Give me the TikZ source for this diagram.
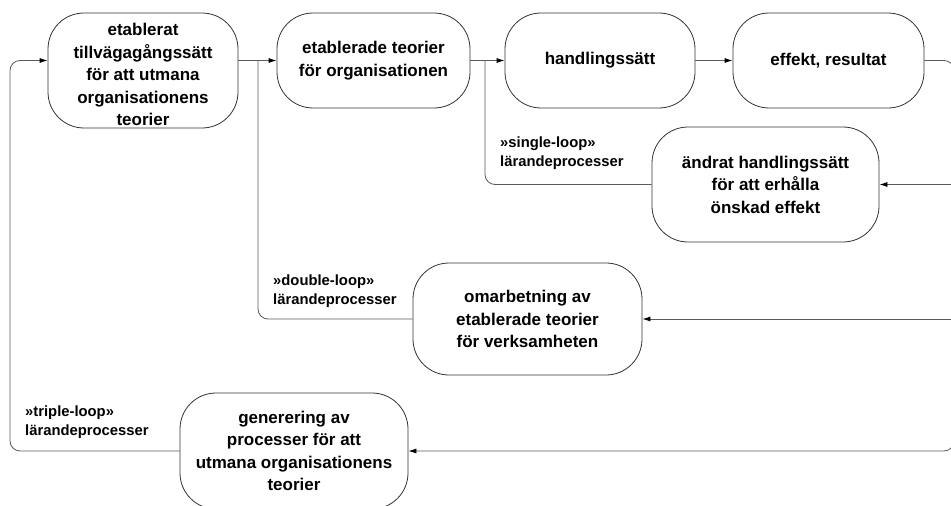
\documentclass[tikz,border=0pt]{standalone}
\usepackage{fontspec}
\setmainfont{Liberation Sans}
\usetikzlibrary{arrows.meta}
\definecolor{boxgray}{HTML}{333333}
\definecolor{linegray}{HTML}{5A5A5A}
\begin{document}
\begin{tikzpicture}[x=1pt,y=-1pt,
  box/.style={draw=boxgray, line width=0.8pt, rounded corners=36pt, align=center,
    font=\bfseries\fontsize{17}{22.5}\selectfont, inner sep=0pt},
  conn/.style={draw=linegray, line width=0.8pt, rounded corners=10pt},
  arr/.style={conn, -{Latex[length=8pt,width=5pt,color=black]}},
  lbl/.style={anchor=north west, align=left, inner sep=0pt,
    font=\bfseries\fontsize{14.8}{19}\selectfont}]
\useasboundingbox (0,0) rectangle (951,506);
\clip (0,0) rectangle (951,506);

% boxes
\node[box, minimum width=190pt, minimum height=115pt] (b1) at (143,70.5)
  {\parbox{180pt}{\vspace*{8pt}\centering etablerat\\tillvägagångssätt\\för att utmana\\organisationens\\teorier}};
\node[box, minimum width=193pt, minimum height=95pt] (b2) at (373.5,60.5)
  {etablerade teorier\\för organisationen};
\node[box, minimum width=190pt, minimum height=95pt] (b3) at (600,60.5)
  {handlingssätt};
\node[box, minimum width=191pt, minimum height=95pt] (b4) at (828.5,60.5)
  {effekt, resultat};
\node[box, minimum width=227pt, minimum height=115pt] (b5) at (765.5,184.5)
  {ändrat handlingssätt\\för att erhålla\\önskad effekt};
\node[box, minimum width=229pt, minimum height=112pt] (b6) at (527.5,319)
  {omarbetning av\\etablerade teorier\\för verksamheten};
\node[box, minimum width=228pt, minimum height=116pt] (b7) at (294,451)
  {generering av\\processer för att\\utmana organisationens\\teorier};

% labels
\node[lbl] (l1) at (500,137) {»single-loop»\\lärandeprocesser};
\node[lbl] (l2) at (273,275) {»double-loop»\\lärandeprocesser};
\node[lbl] (l3) at (25,406) {»triple-loop»\\lärandeprocesser};

% junction coordinates
\coordinate (j1) at (485,60.5);
\coordinate (j2) at (258,60.5);
\coordinate (R) at (954,0);
\coordinate (L) at (10,0);

% main chain
\draw[arr] (b1.east |- b2.west) -- (b2.west);
\draw[arr] (b2.east) -- (b3.west);
\draw[arr] (b3.east) -- (b4.west);

% right feedback
\draw[arr] (b4.east) -| (R |- b7.east) -- (b7.east);
\draw[arr] (R |- b5.east) -- (b5.east);
\draw[arr] (R |- b6.east) -- (b6.east);

% loops back
\draw[conn] (b5.west) -| (j1);
\draw[conn] (b6.west) -| (j2);
\draw[arr] (b7.west) -| (L |- b2.west) -- (b1.west |- b2.west);
\end{tikzpicture}
\end{document}
